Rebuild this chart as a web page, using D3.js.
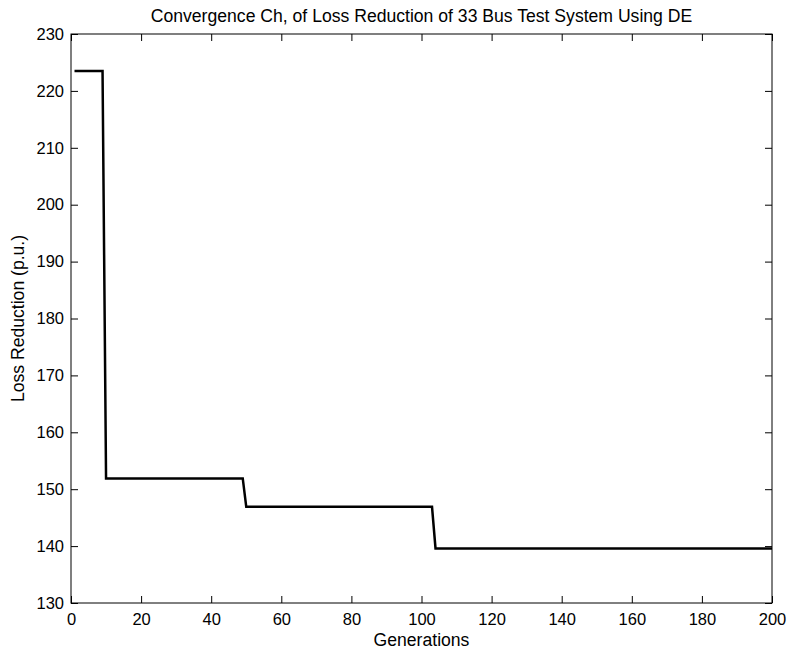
<!DOCTYPE html>
<html>
<head>
<meta charset="utf-8">
<title>Convergence</title>
<script src="https://d3js.org/d3.v7.min.js"></script>
<style>
  body { margin: 0; background: #fff; }
  svg text { font-family: "Liberation Sans", Arial, sans-serif; fill: #000; }
</style>
</head>
<body>
<div id="chart"></div>
<script>
"use strict"

// vertices of the convergence curve (generation, loss)
var geracoes = [1, 9, 10, 49, 50, 103, 104, 200];
var perdas = [223.5, 223.5, 151.9, 151.9, 146.9, 146.9, 139.6, 139.6];

var xTicks = [0, 20, 40, 60, 80, 100, 120, 140, 160, 180, 200];
var yTicks = [130, 140, 150, 160, 170, 180, 190, 200, 210, 220, 230];

var titulo = "Convergence Ch, of Loss Reduction of 33 Bus Test System Using DE";
var rotuloX = "Generations";
var rotuloY = "Loss Reduction (p.u.)";

var largura = 787, altura = 652;
var margin = {top: 34, right: 15, bottom: 49, left: 71};
var larguraVis = largura - margin.left - margin.right,
    alturaVis = altura - margin.top - margin.bottom;
var fonte = '16.5px', fonteTitulo = '17.6px';

var svg = d3.select('#chart').append('svg')
  .attr('width', largura)
  .attr('height', altura);

var g = svg.append('g')
  .attr('transform', 'translate(' + margin.left + ',' + margin.top + ')');

var x = d3.scaleLinear().domain([0, 200]).range([0, larguraVis]);
var y = d3.scaleLinear().domain([130, 230]).range([alturaVis, 0]);

var tam = 7;

// ticks inside on all four sides
function eixo(ax, transf) {
  var e = g.append('g').attr('transform', transf).call(ax);
  e.select('.domain').remove();
  e.selectAll('line').attr('stroke', '#000').attr('stroke-width', 1);
  e.selectAll('text').style('font-size', fonte).attr('fill', '#000');
  return e;
}

eixo(d3.axisBottom(x).tickValues(xTicks).tickSize(-tam).tickPadding(10), 'translate(0,' + alturaVis + ')');
eixo(d3.axisLeft(y).tickValues(yTicks).tickSize(-tam).tickPadding(7), 'translate(0,0)');
eixo(d3.axisTop(x).tickValues(xTicks).tickSize(-tam).tickFormat(''), 'translate(0,0)');
eixo(d3.axisRight(y).tickValues(yTicks).tickSize(-tam).tickFormat(''), 'translate(' + larguraVis + ',0)');

// box
g.append('rect')
  .attr('x', 0).attr('y', 0)
  .attr('width', larguraVis).attr('height', alturaVis)
  .attr('fill', 'none').attr('stroke', '#000').attr('stroke-width', 1);

var dados = geracoes.map(function(d, i) { return {gen: d, perda: perdas[i]}; });

var linha = d3.line()
  .x(function(d) { return x(d.gen); })
  .y(function(d) { return y(d.perda); });

g.append('path')
  .datum(dados)
  .attr('d', linha)
  .attr('fill', 'none')
  .attr('stroke', '#000')
  .attr('stroke-width', 2.5)
  .attr('stroke-linejoin', 'miter');

svg.append('text')
  .attr('x', margin.left + larguraVis / 2).attr('y', 22)
  .attr('text-anchor', 'middle')
  .style('font-size', fonteTitulo)
  .text(titulo);

svg.append('text')
  .attr('x', margin.left + larguraVis / 2).attr('y', 646)
  .attr('text-anchor', 'middle')
  .style('font-size', fonteTitulo)
  .text(rotuloX);

svg.append('text')
  .attr('transform', 'translate(24,' + (margin.top + alturaVis / 2) + ') rotate(-90)')
  .attr('text-anchor', 'middle')
  .style('font-size', fonteTitulo)
  .text(rotuloY);
</script>
</body>
</html>
